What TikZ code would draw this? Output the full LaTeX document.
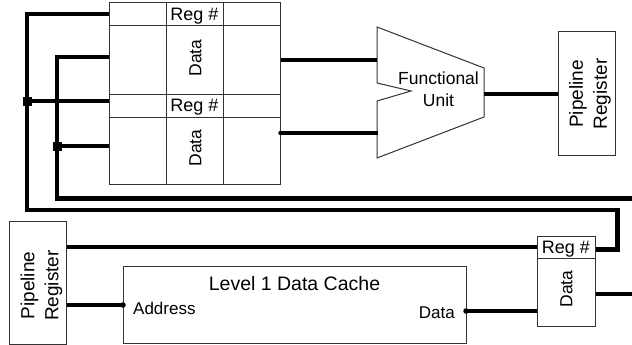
\documentclass[tikz,border=0pt]{standalone}
\usepackage{fontspec}
\setmainfont{Liberation Sans}
\begin{document}
\begin{tikzpicture}[x=1pt,y=-1pt,
  boxline/.style={draw=black!80, line width=1pt},
  box/.style={boxline, rectangle, inner sep=0pt, text depth=0pt, font=\fontsize{18}{21}\selectfont},
  wire/.style={line width=4.3pt},
  lbl/.style={inner sep=0pt, font=\fontsize{17}{20}\selectfont},
  vdata/.style={inner sep=0pt, rotate=90, font=\fontsize{17.5}{20}\selectfont},
  pipe/.style={inner sep=0pt, align=center, font=\fontsize{19}{24}\selectfont, rotate=90},
  jdot/.style={rectangle, fill=black, inner sep=0pt, minimum width=9pt, minimum height=9pt},
  edot/.style={circle, fill=black, inner sep=0pt, minimum size=5.5pt}]
\useasboundingbox (0,0) rectangle (632,345);

% ---------- coordinates for wire corners and ports ----------
\coordinate (lA) at (27,210);
\coordinate (rA) at (617.5,210);
\coordinate (lB) at (57,198.5);
\coordinate (rB) at (632,198.5);
\coordinate (jA) at (27,101);
\coordinate (jB) at (57,146);
\coordinate (tB) at (57,57);
\coordinate (fuA) at (377,60);
\coordinate (fuB) at (378,133);
\coordinate (fuO) at (484,94);
\coordinate (cacheA) at (123,305);
\coordinate (cacheD) at (466,311);
\coordinate (outD) at (632,294);

% ---------- register file ----------
\node[box, minimum width=171pt, minimum height=23pt] (r1) at (194.5,14.5) {Reg \#};
\node[box, minimum width=171pt, minimum height=68pt] (d1) at (194.5,60) {};
\node[box, minimum width=171pt, minimum height=23pt] (r2) at (194.5,105.5) {Reg \#};
\node[box, minimum width=171pt, minimum height=67pt] (d2) at (194.5,150.5) {};
\draw[boxline] (166,3) -- (166,184);
\draw[boxline] (223,3) -- (223,184);
\node[vdata] (d1t) at (195.5,58) {Data};
\node[vdata] (d2t) at (195.5,148) {Data};

% ---------- functional unit ----------
\draw[boxline, fill=white] (377,27) -- (484,68) -- (484,117) -- (377,158) -- (377,101) -- (411,91) -- (377,83) -- cycle;
\node[lbl, align=center, font=\fontsize{17.5}{22}\selectfont] (fu) at (438.5,89) {Functional\\Unit};

% ---------- pipeline registers ----------
\node[boxline, rectangle, minimum width=57pt, minimum height=123pt] (pr) at (586.5,93.5) {};
\node[pipe] (prt) at (590,94) {Pipeline\\Register};
\node[boxline, rectangle, minimum width=57pt, minimum height=123pt] (pl) at (37.5,282.5) {};
\node[pipe] (plt) at (41.5,285.5) {Pipeline\\Register};

% ---------- cache ----------
\node[boxline, rectangle, minimum width=343pt, minimum height=77pt] (cache) at (294.5,304.5) {};
\node[inner sep=0pt, anchor=base, font=\fontsize{19.5}{23}\selectfont] (ctitle) at (294.5,290) {Level 1 Data Cache};
\node[lbl, anchor=base west] (caddr) at (133,314) {Address};
\node[lbl, anchor=base east] (cdata) at (455,318) {Data};

% ---------- small register ----------
\node[box, minimum width=58pt, minimum height=22pt] (rr) at (566,247) {Reg \#};
\node[boxline, rectangle, minimum width=58pt, minimum height=68pt] (rd) at (566,292) {};
\node[vdata] (rdt) at (566.5,289) {Data};

% ---------- wires ----------
\draw[wire] (r1.west) ++(0,-0.5) -| (lA) -- (rA) |- ([yshift=-2.5pt]rr.east);
\draw[wire] (tB -| d1.west) -- (tB) -- (lB) -- (rB);
\draw[wire] (jA) -- (jA -| r2.west);
\draw[wire] (jB) -- (jB -| d2.west);
\node[jdot] (dA) at (jA) {};
\node[jdot] (dB) at (jB) {};
\draw[wire] (fuA -| d1.east) -- (fuA);
\draw[wire] (fuB -| d2.east) -- (fuB);
\node[edot, minimum size=4.5pt] (eB) at (fuB -| d2.east) {};
\draw[wire] (fuO) -- (fuO -| pr.west);
\draw[wire] (pl.east |- rr.west) -- (rr.west);
\draw[wire] (pl.east |- cacheA) -- (cacheA);
\node[edot] (eA) at (cacheA) {};
\draw[wire] (cacheD) -- (cacheD -| rd.west);
\node[edot] (eD) at (cacheD) {};
\draw[wire] (outD -| rd.east) -- (outD);
\end{tikzpicture}
\end{document}
